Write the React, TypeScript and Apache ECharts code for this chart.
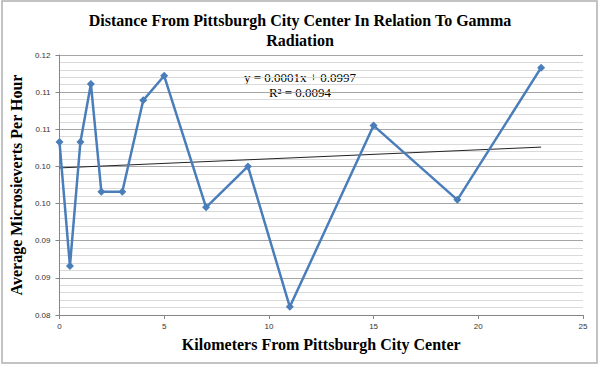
import React, { useEffect, useRef } from "react";
import * as echarts from "echarts";

const distanceKm = [0, 0.5, 1, 1.5, 2, 3, 4, 5, 7, 9, 11, 15, 19, 23];
const microsieverts = [0.1033, 0.0866, 0.1033, 0.1111, 0.0966, 0.0966, 0.1089, 0.1122, 0.0945, 0.1, 0.0811, 0.1055, 0.0955, 0.1133];
const trendX = [0, 23];
const trendY = [0.0998, 0.1026];
const titleText = "Distance From Pittsburgh City Center In Relation To Gamma\nRadiation";
const xAxisTitle = "Kilometers From Pittsburgh City Center";
const yAxisTitle = "Average Microsieverts Per Hour";
const equationLines = ["y = 0.0001x + 0.0997", "R² = 0.0094"];

const SERIF = "'Liberation Serif', 'Times New Roman', serif";
const SANS = "'Liberation Sans', Arial, sans-serif";

export default function App() {
  const ref = useRef<HTMLDivElement>(null);
  useEffect(() => {
    document.body.style.margin = "0";
    const chart = echarts.init(ref.current!, null, { renderer: "svg" });
    chart.setOption({
      animation: false,
      backgroundColor: "#ffffff",
      title: {
        text: titleText,
        left: "center",
        top: 5,
        textStyle: { fontFamily: SERIF, fontWeight: "bold", fontSize: 16, lineHeight: 20, color: "#000" },
      },
      grid: { left: 56, right: 17, top: 55, bottom: 51 },
      xAxis: {
        type: "value",
        min: 0,
        max: 25,
        interval: 5,
        name: xAxisTitle,
        nameLocation: "middle",
        nameGap: 21,
        nameTextStyle: { fontFamily: SERIF, fontWeight: "bold", fontSize: 16, color: "#000" },
        axisLine: { show: true, lineStyle: { color: "#868686", width: 1 } },
        axisTick: { show: true, inside: false, length: 4, lineStyle: { color: "#868686" } },
        axisLabel: { fontFamily: SANS, fontSize: 8, color: "#333", margin: 7 },
        splitLine: { show: false },
      },
      yAxis: {
        type: "value",
        min: 0.08,
        max: 0.115,
        interval: 0.005,
        name: yAxisTitle,
        nameLocation: "middle",
        nameRotate: 90,
        nameGap: 27,
        nameTextStyle: { fontFamily: SERIF, fontWeight: "bold", fontSize: 16, color: "#000" },
        axisLine: { show: true, lineStyle: { color: "#868686", width: 1 } },
        axisTick: { show: true, inside: false, length: 4, lineStyle: { color: "#868686" } },
        axisLabel: {
          fontFamily: SANS,
          fontSize: 8,
          color: "#333",
          margin: 9,
          formatter: (v: number) => (Math.round(v * 100 + 1e-6) / 100).toFixed(2),
        },
        splitLine: { show: true, lineStyle: { color: "#a6a6a6", width: 1 } },
        minorTick: { show: false, splitNumber: 5 },
        minorSplitLine: { show: true, lineStyle: { color: "#dadada", width: 1 } },
      },
      graphic: [
        {
          type: "rect",
          shape: { x: 2, y: 1, width: 595, height: 362 },
          style: { fill: "none", stroke: "#b0b0b0", lineWidth: 1.5 },
          silent: true,
          z: 100,
        },
        {
          type: "text",
          x: 300,
          y: 77,
          style: { text: equationLines[0], fontFamily: SERIF, fontSize: 13, fill: "#000", textAlign: "center", textVerticalAlign: "middle" },
        },
        {
          type: "text",
          x: 300,
          y: 92,
          style: { text: equationLines[1], fontFamily: SERIF, fontSize: 13, fill: "#000", textAlign: "center", textVerticalAlign: "middle" },
        },
      ],
      series: [
        {
          type: "line",
          data: trendX.map((x, i) => [x, trendY[i]]),
          showSymbol: false,
          symbol: "none",
          lineStyle: { color: "#222", width: 1 },
          z: 3,
        },
        {
          type: "line",
          data: distanceKm.map((x, i) => [x, microsieverts[i]]),
          symbol: "diamond",
          symbolSize: 8,
          itemStyle: { color: "#4a7ebb" },
          lineStyle: { color: "#4a7ebb", width: 2.5 },
          z: 4,
        },
      ],
    });
    return () => chart.dispose();
  }, []);
  return <div ref={ref} style={{ width: 600, height: 366 }} />;
}
